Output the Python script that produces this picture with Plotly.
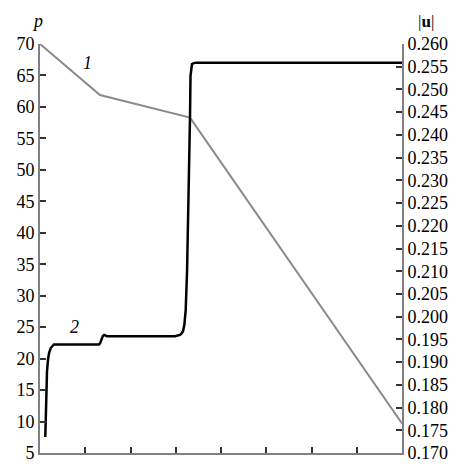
import plotly.graph_objects as go

# Curve 1 (gray), left axis p
x1 = [0.0, 1.326, 3.315, 8.0]
p1 = [70.0, 61.9, 58.3, 9.7]

# Curve 2 (black), right axis |u|
x2 = [0.117, 0.125, 0.139, 0.155, 0.177, 0.200, 0.236, 0.270, 0.309, 1.304,
      1.330, 1.360, 1.392, 1.420, 1.450, 1.480, 2.983, 3.050, 3.094, 3.130,
      3.160, 3.190, 3.220, 3.250, 3.277, 3.300, 3.315, 3.326, 3.340, 3.359,
      3.400, 3.448, 8.0]
u2 = [0.1735, 0.1790, 0.1845, 0.1880, 0.1905, 0.1920, 0.1931, 0.1936, 0.1939, 0.1939,
      0.1942, 0.1950, 0.1958, 0.1960, 0.1958, 0.1957, 0.1957, 0.1958, 0.1960, 0.1963,
      0.1968, 0.1982, 0.2015, 0.2100, 0.2219, 0.2340, 0.2439, 0.2530, 0.2550, 0.2556,
      0.2558, 0.2559, 0.2559]

left_ticks = list(range(5, 71, 5))
right_ticks = [round(0.170 + 0.005 * i, 3) for i in range(19)]

FONT = "Liberation Serif"

fig = go.Figure()
fig.add_trace(go.Scatter(x=x1, y=p1, mode="lines",
                         line=dict(color="#8a8a8a", width=2), yaxis="y"))
fig.add_trace(go.Scatter(x=x2, y=u2, mode="lines",
                         line=dict(color="black", width=2.5), yaxis="y2"))

axis_common = dict(showline=True, linecolor="#808080", linewidth=2,
                   ticks="inside", ticklen=6, tickwidth=1.5, tickcolor="#333",
                   showgrid=False, zeroline=False, automargin=False,
                   tickfont=dict(family=FONT, size=18, color="black"))

annots = [
    dict(text="<i>p</i>", xref="paper", yref="paper", x=-0.007, y=1.057,
         font=dict(family=FONT, size=18, color="black")),
    dict(text="|<b>u</b>|", xref="paper", yref="paper", x=1.065, y=1.054,
         font=dict(family=FONT, size=17, color="black")),
    dict(text="<i>1</i>", xref="x", yref="y", x=1.04, y=67.0,
         font=dict(family=FONT, size=18, color="black")),
    dict(text="<i>2</i>", xref="x", yref="y", x=0.77, y=25.1,
         font=dict(family=FONT, size=18, color="black")),
]

fig.update_layout(
    width=459, height=459,
    margin=dict(l=32, r=65, t=36, b=14),
    paper_bgcolor="white", plot_bgcolor="white",
    showlegend=False,
    xaxis=dict(range=[0, 8], dtick=1, showticklabels=False, **axis_common),
    yaxis=dict(range=[5, 70], tickvals=left_ticks, **axis_common),
    yaxis2=dict(range=[0.170, 0.260], tickvals=right_ticks, tickformat=".3f",
                overlaying="y", side="right", **axis_common),
    annotations=[dict(showarrow=False, xanchor="center", yanchor="middle", **a) for a in annots],
)

fig.write_html("out.html")
